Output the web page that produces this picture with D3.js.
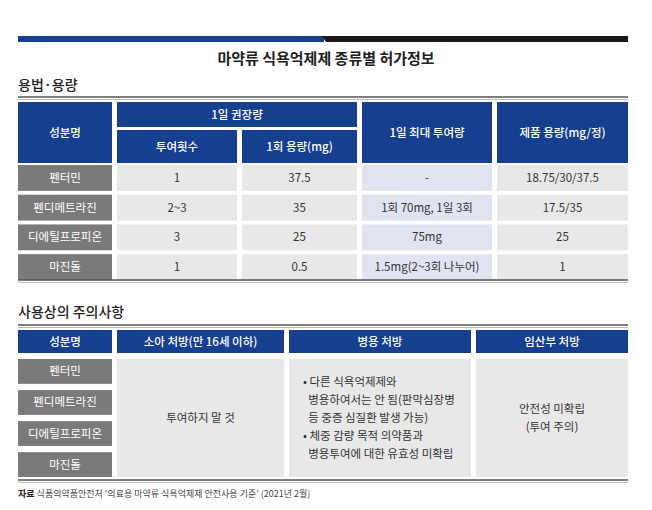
<!DOCTYPE html>
<html><head><meta charset="utf-8">
<script src="https://cdn.jsdelivr.net/npm/d3@7"></script>
<style>body{margin:0;background:#fff}text{font-family:"Noto Sans CJK KR",sans-serif}</style>
</head><body><div class="container"></div>
<script>
const drugs = ["펜터민", "펜디메트라진", "디에틸프로피온", "마진돌"];
const dailyCount = ["1", "2~3", "3", "1"];
const singleDose = ["37.5", "35", "25", "0.5"];
const maxDaily = ["-", "1회 70mg, 1일 3회", "75mg", "1.5mg(2~3회 나누어)"];
const productDose = ["18.75/30/37.5", "17.5/35", "25", "1"];
const cautionHeads = ["성분명", "소아 처방(만 16세 이하)", "병용 처방", "임산부 처방"];
const childText = ["투여하지 말 것"];
const comboText = ["• 다른 식욕억제제와", "  병용하여서는 안 됨(판막심장병", "  등 중증 심질환 발생 가능)", "• 체중 감량 목적 의약품과", "  병용투여에 대한 유효성 미확립"];
const pregText = ["안전성 미확립", "(투여 주의)"];

const W = 652, H = 510, blue = "#173f8f", gray = "#7a7a7a", light = "#e8e8e8", lav = "#e1e4f0";
const svg = d3.select(".container").append("svg").attr("width", W).attr("height", H);

// top bar
svg.append("rect").attr("x", 18).attr("y", 36).attr("width", 306).attr("height", 6).attr("fill", blue);
svg.append("path").attr("d", "M322,36 L628,36 L628,42 L326,42 Z").attr("fill", "#1a1a1a");
svg.append("text").attr("x", 326).attr("y", 64).attr("text-anchor", "middle")
   .attr("font-size", 15).attr("font-weight", 700).attr("fill", "#222").text("마약류 식욕억제제 종류별 허가정보");

function sectionTitle(y, t) {
  svg.append("text").attr("x", 18).attr("y", y).attr("font-size", 14).attr("font-weight", 500).attr("fill", "#222").text(t);
}
function rule(y) {
  svg.append("line").attr("x1", 18).attr("x2", 628).attr("y1", y).attr("y2", y).attr("stroke", "#555").attr("stroke-width", 1.5);
  svg.append("line").attr("x1", 18).attr("x2", 628).attr("y1", y + 2.5).attr("y2", y + 2.5).attr("stroke", "#bbb").attr("stroke-width", 1);
}
function cell(x0, x1, y0, y1, fill, lines, color, size, weight, anchor) {
  svg.append("rect").attr("x", x0).attr("y", y0).attr("width", x1 - x0).attr("height", y1 - y0).attr("fill", fill);
  const lh = size * 1.55, cy = (y0 + y1) / 2 - (lines.length - 1) * lh / 2;
  lines.forEach((t, i) => {
    svg.append("text").attr("x", anchor === "start" ? x0 + 14 : (x0 + x1) / 2).attr("y", cy + i * lh)
       .attr("dy", "0.35em").attr("text-anchor", anchor || "middle").attr("xml:space", "preserve")
       .attr("font-size", size).attr("font-weight", weight || 400).attr("fill", color).text(t);
  });
}

// section 1
sectionTitle(90, "용법·용량");
rule(97);
const c1 = [[18, 112], [117, 237], [242, 357], [362, 492], [497, 628]];
cell(18, 112, 102, 163, blue, ["성분명"], "#fff", 11.5, 500);
cell(117, 357, 102, 127, blue, ["1일 권장량"], "#fff", 11.5, 500);
cell(117, 237, 130, 163, blue, ["투여횟수"], "#fff", 11.5, 500);
cell(242, 357, 130, 163, blue, ["1회 용량(mg)"], "#fff", 11.5, 500);
cell(362, 492, 102, 163, blue, ["1일 최대 투여량"], "#fff", 11.5, 500);
cell(497, 628, 102, 163, blue, ["제품 용량(mg/정)"], "#fff", 11.5, 500);

const rowY = d3.scaleBand().domain(d3.range(drugs.length)).range([165, 280]).paddingInner(0.13);
const cols = [drugs, dailyCount, singleDose, maxDaily, productDose];
drugs.forEach((d, i) => {
  const y0 = rowY(i), y1 = y0 + rowY.bandwidth();
  cols.forEach((col, j) => {
    const fill = j === 0 ? gray : (j === 3 ? lav : light);
    cell(c1[j][0], c1[j][1], y0, y1, fill, [col[i]], j === 0 ? "#fff" : "#333", 11.5, 400);
  });
});
rule(280);

// section 2
sectionTitle(317, "사용상의 주의사항");
rule(325);
const c2 = [[18, 112], [117, 284], [289, 471], [476, 628]];
cautionHeads.forEach((h, j) => cell(c2[j][0], c2[j][1], 330, 353, blue, [h], "#fff", 11.5, 500));
const nameY = d3.scaleBand().domain(d3.range(drugs.length)).range([359, 477]).paddingInner(0.2);
drugs.forEach((d, i) => cell(18, 112, nameY(i), nameY(i) + nameY.bandwidth(), gray, [d], "#fff", 11.5, 400));
cell(117, 284, 359, 477, light, childText, "#333", 11.5, 400);
cell(289, 471, 359, 477, light, comboText, "#333", 11.5, 400, "start");
cell(476, 628, 359, 477, light, pregText, "#333", 11.5, 400);
rule(480);

const foot = svg.append("text").attr("x", 18).attr("y", 497).attr("font-size", 9).attr("fill", "#444");
foot.append("tspan").attr("font-weight", 700).attr("fill", "#222").text("자료 ");
foot.append("tspan").text(" 식품의약품안전처 '의료용 마약류 식욕억제제 안전사용 기준' (2021년 2월)");
</script></body></html>
